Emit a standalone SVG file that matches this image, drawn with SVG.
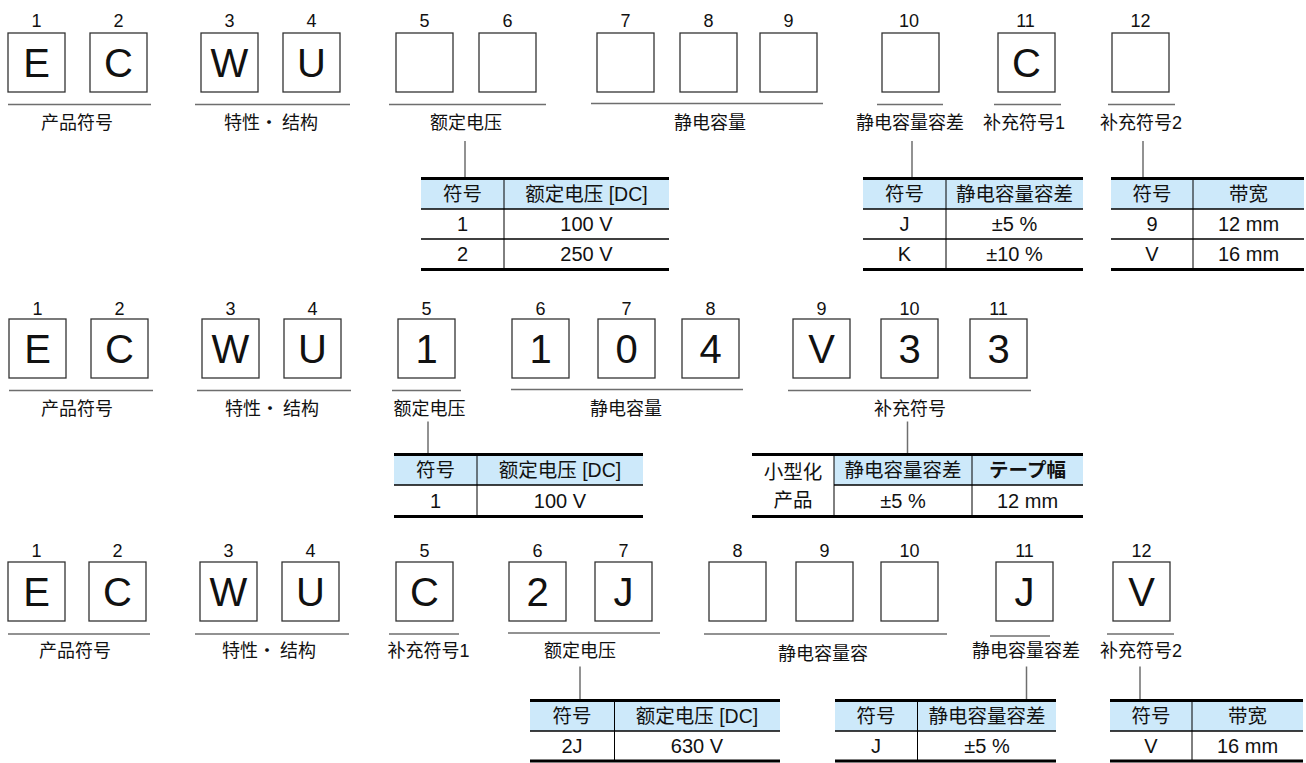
<svg xmlns="http://www.w3.org/2000/svg" width="1306" height="763" viewBox="0 0 1306 763">
<style>
text{font-family:"Liberation Sans","Noto Sans CJK SC",Arial,sans-serif;fill:#111;text-anchor:middle}
.box{fill:#fff;stroke:#333;stroke-width:1.3}
.num{font-size:18px}
.big{font-size:40px}
.lab{font-size:18px}
.cjk{font-family:"Noto Sans CJK SC",sans-serif}
.ul{stroke:#6e6e6e;stroke-width:1.5}
.conn{stroke:#6e6e6e;stroke-width:1.5;fill:none}
.hd{fill:#cde9fa}
.tk{stroke:#000;stroke-width:3}
.tl{stroke:#000;stroke-width:1.3}
.tv{stroke:#000;stroke-width:1}
.tc{font-size:19.5px}
.tn{font-size:20px}
.b{font-weight:bold}
</style>

<g id="connectors">
<line class="conn" x1="465" y1="141" x2="465" y2="177"/>
<line class="conn" x1="912" y1="141" x2="912" y2="177"/>
<line class="conn" x1="1143" y1="141" x2="1143" y2="177"/>
<line class="conn" x1="428" y1="421.5" x2="428" y2="453"/>
<line class="conn" x1="907.5" y1="421.5" x2="907.5" y2="453"/>
<line class="conn" x1="580" y1="666.5" x2="580" y2="699"/>
<line class="conn" x1="1026.5" y1="666.5" x2="1026.5" y2="699"/>
<line class="conn" x1="1140" y1="666.5" x2="1140" y2="699"/>
</g>

<!-- ROW 1 -->
<g id="r1-boxes">
<g id="r1b1"><text class="num" x="36.5" y="27">1</text><rect class="box" x="8" y="33" width="57" height="59"/><text class="big" x="36.5" y="77">E</text></g>
<g id="r1b2"><text class="num" x="118.5" y="27">2</text><rect class="box" x="90" y="33" width="57" height="59"/><text class="big" x="118.5" y="77">C</text></g>
<g id="r1b3"><text class="num" x="229.5" y="27">3</text><rect class="box" x="201" y="33" width="57" height="59"/><text class="big" x="229.5" y="77">W</text></g>
<g id="r1b4"><text class="num" x="311.5" y="27">4</text><rect class="box" x="283" y="33" width="57" height="59"/><text class="big" x="311.5" y="77">U</text></g>
<g id="r1b5"><text class="num" x="424.5" y="27">5</text><rect class="box" x="396" y="33" width="57" height="59"/></g>
<g id="r1b6"><text class="num" x="507.5" y="27">6</text><rect class="box" x="479" y="33" width="57" height="59"/></g>
<g id="r1b7"><text class="num" x="625.5" y="27">7</text><rect class="box" x="597" y="33" width="57" height="59"/></g>
<g id="r1b8"><text class="num" x="708.5" y="27">8</text><rect class="box" x="680" y="33" width="57" height="59"/></g>
<g id="r1b9"><text class="num" x="788.5" y="27">9</text><rect class="box" x="760" y="33" width="57" height="59"/></g>
<g id="r1b10"><text class="num" x="909" y="27">10</text><rect class="box" x="882" y="33" width="57" height="59"/></g>
<g id="r1b11"><text class="num" x="1025.5" y="27">11</text><rect class="box" x="998" y="33" width="57" height="59"/><text class="big" x="1026.5" y="77">C</text></g>
<g id="r1b12"><text class="num" x="1140.5" y="27">12</text><rect class="box" x="1112" y="33" width="57" height="59"/></g>
</g>
<g id="r1-labels">
<g id="r1l1"><line class="ul" x1="8" y1="104.5" x2="151" y2="104.5"/><text class="lab" x="77" y="128.5">产品符号</text></g>
<g id="r1l2"><line class="ul" x1="195" y1="104.5" x2="350" y2="104.5"/><text class="lab cjk" x="271" y="128.5">特性· 结构</text></g>
<g id="r1l3"><line class="ul" x1="389" y1="104.5" x2="546" y2="104.5"/><text class="lab" x="466" y="128.5">额定电压</text></g>
<g id="r1l4"><line class="ul" x1="591" y1="103.5" x2="823" y2="103.5"/><text class="lab" x="710" y="128.5">静电容量</text></g>
<g id="r1l5"><line class="ul" x1="877" y1="104.5" x2="943" y2="104.5"/><text class="lab" x="910" y="128.5">静电容量容差</text></g>
<g id="r1l6"><line class="ul" x1="994" y1="104.5" x2="1061" y2="104.5"/><text class="lab" x="1024" y="128.5">补充符号1</text></g>
<g id="r1l7"><line class="ul" x1="1108" y1="104.5" x2="1175" y2="104.5"/><text class="lab" x="1141" y="128.5">补充符号2</text></g>
</g>
<g id="r1t1">
<rect class="hd" x="421" y="178" width="248" height="31"/>
<line class="tk" x1="421" y1="178.5" x2="669" y2="178.5"/>
<line class="tl" x1="421" y1="209" x2="669" y2="209"/>
<line class="tl" x1="421" y1="239" x2="669" y2="239"/>
<line class="tk" x1="421" y1="269.5" x2="669" y2="269.5"/>
<line class="tv" x1="504" y1="178" x2="504" y2="269"/>
<text class="tc" x="462.5" y="201">符号</text><text class="tc" x="586.5" y="201">额定电压 [DC]</text>
<text class="tn" x="462.5" y="231">1</text><text class="tn" x="586.5" y="231">100 V</text>
<text class="tn" x="462.5" y="261">2</text><text class="tn" x="586.5" y="261">250 V</text>
</g>
<g id="r1t2">
<rect class="hd" x="863" y="178" width="220" height="31"/>
<line class="tk" x1="863" y1="178.5" x2="1083" y2="178.5"/>
<line class="tl" x1="863" y1="209" x2="1083" y2="209"/>
<line class="tl" x1="863" y1="239" x2="1083" y2="239"/>
<line class="tk" x1="863" y1="269.5" x2="1083" y2="269.5"/>
<line class="tv" x1="946" y1="178" x2="946" y2="269"/>
<text class="tc" x="904.5" y="201">符号</text><text class="tc" x="1014.5" y="201">静电容量容差</text>
<text class="tn" x="904.5" y="231">J</text><text class="tn" x="1014.5" y="231">±5 %</text>
<text class="tn" x="904.5" y="261">K</text><text class="tn" x="1014.5" y="261">±10 %</text>
</g>
<g id="r1t3">
<rect class="hd" x="1111" y="178" width="193" height="31"/>
<line class="tk" x1="1111" y1="178.5" x2="1304" y2="178.5"/>
<line class="tl" x1="1111" y1="209" x2="1304" y2="209"/>
<line class="tl" x1="1111" y1="239" x2="1304" y2="239"/>
<line class="tk" x1="1111" y1="269.5" x2="1304" y2="269.5"/>
<line class="tv" x1="1193" y1="178" x2="1193" y2="269"/>
<text class="tc" x="1152" y="201">符号</text><text class="tc" x="1248.5" y="201">带宽</text>
<text class="tn" x="1152" y="231">9</text><text class="tn" x="1248.5" y="231">12 mm</text>
<text class="tn" x="1152" y="261">V</text><text class="tn" x="1248.5" y="261">16 mm</text>
</g>

<!-- ROW 2 -->
<g id="r2-boxes">
<g id="r2b1"><text class="num" x="37.5" y="314.5">1</text><rect class="box" x="9" y="319" width="57" height="59"/><text class="big" x="37.5" y="363">E</text></g>
<g id="r2b2"><text class="num" x="119.5" y="314.5">2</text><rect class="box" x="91" y="319" width="57" height="59"/><text class="big" x="119.5" y="363">C</text></g>
<g id="r2b3"><text class="num" x="230.5" y="314.5">3</text><rect class="box" x="202" y="319" width="57" height="59"/><text class="big" x="230.5" y="363">W</text></g>
<g id="r2b4"><text class="num" x="312.5" y="314.5">4</text><rect class="box" x="284" y="319" width="57" height="59"/><text class="big" x="312.5" y="363">U</text></g>
<g id="r2b5"><text class="num" x="426.5" y="314.5">5</text><rect class="box" x="398" y="319" width="57" height="59"/><text class="big" x="426.5" y="363">1</text></g>
<g id="r2b6"><text class="num" x="540.5" y="314.5">6</text><rect class="box" x="512" y="319" width="57" height="59"/><text class="big" x="540.5" y="363">1</text></g>
<g id="r2b7"><text class="num" x="626.5" y="314.5">7</text><rect class="box" x="598" y="319" width="57" height="59"/><text class="big" x="626.5" y="363">0</text></g>
<g id="r2b8"><text class="num" x="710.5" y="314.5">8</text><rect class="box" x="682" y="319" width="57" height="59"/><text class="big" x="710.5" y="363">4</text></g>
<g id="r2b9"><text class="num" x="821.5" y="314.5">9</text><rect class="box" x="793" y="319" width="57" height="59"/><text class="big" x="821.5" y="363">V</text></g>
<g id="r2b10"><text class="num" x="909.5" y="314.5">10</text><rect class="box" x="881" y="319" width="57" height="59"/><text class="big" x="909.5" y="363">3</text></g>
<g id="r2b11"><text class="num" x="998.5" y="314.5">11</text><rect class="box" x="970" y="319" width="57" height="59"/><text class="big" x="998.5" y="363">3</text></g>
</g>
<g id="r2-labels">
<g id="r2l1"><line class="ul" x1="9" y1="390.5" x2="153" y2="390.5"/><text class="lab" x="77" y="414.5">产品符号</text></g>
<g id="r2l2"><line class="ul" x1="197" y1="390.5" x2="351" y2="390.5"/><text class="lab cjk" x="272" y="414.5">特性· 结构</text></g>
<g id="r2l3"><line class="ul" x1="392" y1="390.5" x2="461" y2="390.5"/><text class="lab" x="429.5" y="414.5">额定电压</text></g>
<g id="r2l4"><line class="ul" x1="511" y1="389.5" x2="743" y2="389.5"/><text class="lab" x="626" y="414.5">静电容量</text></g>
<g id="r2l5"><line class="ul" x1="788" y1="390.5" x2="1031" y2="390.5"/><text class="lab" x="910" y="414.5">补充符号</text></g>
</g>
<g id="r2t1">
<rect class="hd" x="394" y="454" width="249" height="31"/>
<line class="tk" x1="394" y1="454.5" x2="643" y2="454.5"/>
<line class="tl" x1="394" y1="485" x2="643" y2="485"/>
<line class="tk" x1="394" y1="516.5" x2="643" y2="516.5"/>
<line class="tv" x1="477" y1="454" x2="477" y2="516"/>
<text class="tc" x="435.5" y="477">符号</text><text class="tc" x="560" y="477">额定电压 [DC]</text>
<text class="tn" x="435.5" y="508">1</text><text class="tn" x="560" y="508">100 V</text>
</g>
<g id="r2t2">
<rect class="hd" x="834" y="454" width="249" height="31"/>
<line class="tk" x1="752" y1="454.5" x2="1083" y2="454.5"/>
<line class="tl" x1="834" y1="485" x2="1083" y2="485"/>
<line class="tk" x1="752" y1="516.5" x2="1083" y2="516.5"/>
<line class="tv" x1="834" y1="454" x2="834" y2="516"/>
<line class="tv" x1="972" y1="454" x2="972" y2="516"/>
<text class="tc" x="793" y="479">小型化</text><text class="tc" x="793" y="507">产品</text>
<text class="tc" x="903" y="477">静电容量容差</text><text class="tc b" x="1027.5" y="477">テープ幅</text>
<text class="tn" x="903" y="508">±5 %</text><text class="tn" x="1027.5" y="508">12 mm</text>
</g>

<!-- ROW 3 -->
<g id="r3-boxes">
<g id="r3b1"><text class="num" x="36.5" y="557">1</text><rect class="box" x="8" y="562" width="57" height="59"/><text class="big" x="36.5" y="606">E</text></g>
<g id="r3b2"><text class="num" x="117.5" y="557">2</text><rect class="box" x="89" y="562" width="57" height="59"/><text class="big" x="117.5" y="606">C</text></g>
<g id="r3b3"><text class="num" x="228.5" y="557">3</text><rect class="box" x="200" y="562" width="57" height="59"/><text class="big" x="228.5" y="606">W</text></g>
<g id="r3b4"><text class="num" x="310.5" y="557">4</text><rect class="box" x="282" y="562" width="57" height="59"/><text class="big" x="310.5" y="606">U</text></g>
<g id="r3b5"><text class="num" x="424.5" y="557">5</text><rect class="box" x="396" y="562" width="57" height="59"/><text class="big" x="424.5" y="606">C</text></g>
<g id="r3b6"><text class="num" x="537.5" y="557">6</text><rect class="box" x="509" y="562" width="57" height="59"/><text class="big" x="537.5" y="606">2</text></g>
<g id="r3b7"><text class="num" x="623.5" y="557">7</text><rect class="box" x="595" y="562" width="57" height="59"/><text class="big" x="623.5" y="606">J</text></g>
<g id="r3b8"><text class="num" x="737.5" y="557">8</text><rect class="box" x="709" y="562" width="57" height="59"/></g>
<g id="r3b9"><text class="num" x="824.5" y="557">9</text><rect class="box" x="796" y="562" width="57" height="59"/></g>
<g id="r3b10"><text class="num" x="909.5" y="557">10</text><rect class="box" x="881" y="562" width="57" height="59"/></g>
<g id="r3b11"><text class="num" x="1024.5" y="557">11</text><rect class="box" x="996" y="562" width="57" height="59"/><text class="big" x="1024.5" y="606">J</text></g>
<g id="r3b12"><text class="num" x="1141.5" y="557">12</text><rect class="box" x="1113" y="562" width="57" height="59"/><text class="big" x="1141.5" y="606">V</text></g>
</g>
<g id="r3-labels">
<g id="r3l1"><line class="ul" x1="8" y1="634" x2="150" y2="634"/><text class="lab" x="75" y="657">产品符号</text></g>
<g id="r3l2"><line class="ul" x1="195" y1="634" x2="349" y2="634"/><text class="lab cjk" x="269" y="657">特性· 结构</text></g>
<g id="r3l3"><line class="ul" x1="389" y1="634" x2="459" y2="634"/><text class="lab" x="428.5" y="657">补充符号1</text></g>
<g id="r3l4"><line class="ul" x1="508" y1="633" x2="660" y2="633"/><text class="lab" x="580" y="657">额定电压</text></g>
<g id="r3l5"><line class="ul" x1="704" y1="634" x2="947" y2="634"/><text class="lab" x="823" y="660">静电容量容</text></g>
<g id="r3l6"><line class="ul" x1="990" y1="636" x2="1050" y2="636"/><text class="lab" x="1026" y="657">静电容量容差</text></g>
<g id="r3l7"><line class="ul" x1="1107" y1="634" x2="1174" y2="634"/><text class="lab" x="1141" y="657">补充符号2</text></g>
</g>
<g id="r3t1">
<rect class="hd" x="530" y="700" width="250" height="31"/>
<line class="tk" x1="530" y1="700.5" x2="780" y2="700.5"/>
<line class="tl" x1="530" y1="731" x2="780" y2="731"/>
<line class="tk" x1="530" y1="761" x2="780" y2="761"/>
<line class="tv" x1="614.5" y1="700" x2="614.5" y2="761"/>
<text class="tc" x="572" y="723">符号</text><text class="tc" x="697" y="723">额定电压 [DC]</text>
<text class="tn" x="572" y="753">2J</text><text class="tn" x="697" y="753">630 V</text>
</g>
<g id="r3t2">
<rect class="hd" x="835" y="700" width="221" height="31"/>
<line class="tk" x1="835" y1="700.5" x2="1056" y2="700.5"/>
<line class="tl" x1="835" y1="731" x2="1056" y2="731"/>
<line class="tk" x1="835" y1="761" x2="1056" y2="761"/>
<line class="tv" x1="917.5" y1="700" x2="917.5" y2="761"/>
<text class="tc" x="876" y="723">符号</text><text class="tc" x="987" y="723">静电容量容差</text>
<text class="tn" x="876" y="753">J</text><text class="tn" x="987" y="753">±5 %</text>
</g>
<g id="r3t3">
<rect class="hd" x="1110" y="700" width="193" height="31"/>
<line class="tk" x1="1110" y1="700.5" x2="1303" y2="700.5"/>
<line class="tl" x1="1110" y1="731" x2="1303" y2="731"/>
<line class="tk" x1="1110" y1="761" x2="1303" y2="761"/>
<line class="tv" x1="1192" y1="700" x2="1192" y2="761"/>
<text class="tc" x="1151" y="723">符号</text><text class="tc" x="1247.5" y="723">带宽</text>
<text class="tn" x="1151" y="753">V</text><text class="tn" x="1247.5" y="753">16 mm</text>
</g>
</svg>
